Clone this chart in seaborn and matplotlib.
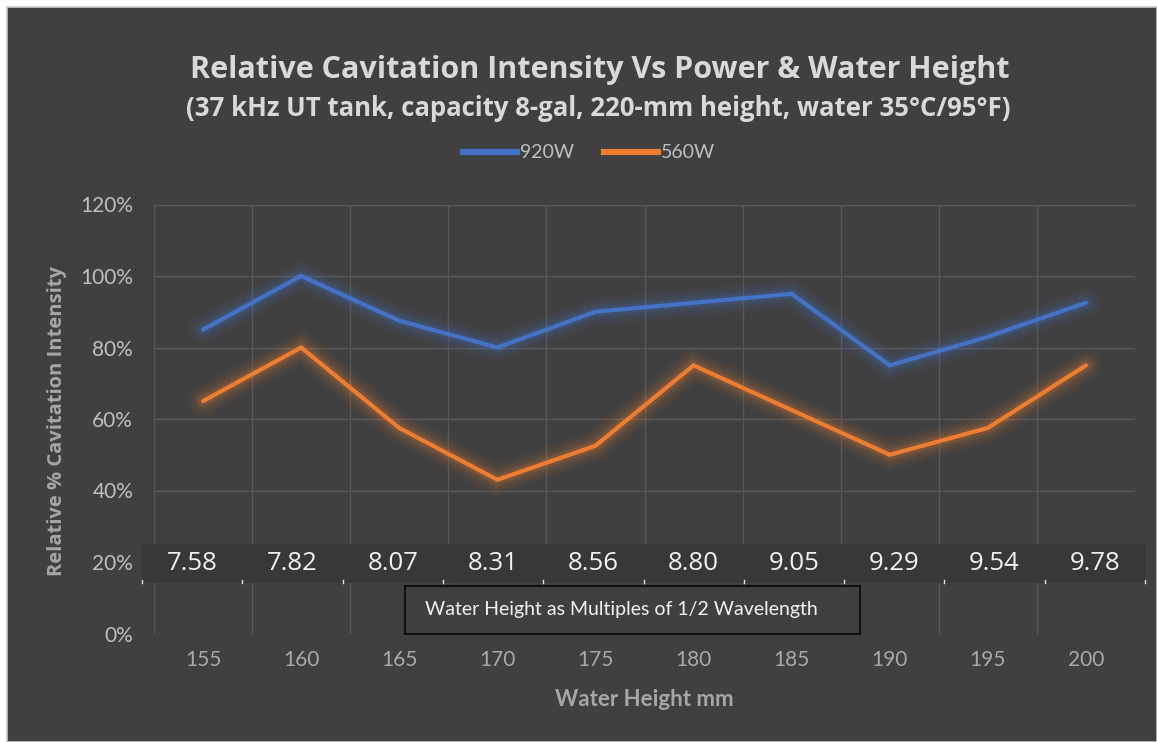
import matplotlib
matplotlib.use("Agg")
import matplotlib.pyplot as plt
import matplotlib.patheffects as pe
from matplotlib.patches import Rectangle
from matplotlib.lines import Line2D
from matplotlib.ticker import FuncFormatter, MultipleLocator
import seaborn as sns
import pandas as pd

# ---- data ----
water_height_mm = [155, 160, 165, 170, 175, 180, 185, 190, 195, 200]
intensity_920w = [85, 100, 87.5, 80, 90, 92.5, 95, 75, 83, 92.5]
intensity_560w = [65, 80, 57.5, 43, 52.5, 75, 62.5, 50, 57.5, 75]
half_wavelength_multiples = ["7.58", "7.82", "8.07", "8.31", "8.56",
                             "8.80", "9.05", "9.29", "9.54", "9.78"]
series_names = ["920W", "560W"]
y_ticks = [0, 20, 40, 60, 80, 100, 120]

title = "Relative Cavitation Intensity Vs Power & Water Height"
subtitle = "(37 kHz UT tank, capacity 8-gal, 220-mm height, water 35\u00b0C/95\u00b0F)"
x_label = "Water Height mm"
y_label = "Relative % Cavitation Intensity"
box_label = "Water Height as Multiples of 1/2 Wavelength"

df = pd.DataFrame({
    "height": water_height_mm * 2,
    "value": intensity_920w + intensity_560w,
    "series": [series_names[0]] * len(water_height_mm) + [series_names[1]] * len(water_height_mm),
})

BG = "#404040"
BLUE = "#4472C4"
ORANGE = "#ED7D31"
palette = {series_names[0]: BLUE, series_names[1]: ORANGE}

W, H = 1157, 742
fig = plt.figure(figsize=(W / 100, H / 100), dpi=100)
fig.patch.set_facecolor("white")
plt.rcParams["font.family"] = ["Lato", "DejaVu Sans"]

# dark chart background with light outer border
fig.patches.append(Rectangle((7 / W, 0), 1 - 7 / W, 1 - 7 / H, transform=fig.transFigure,
                             facecolor=BG, edgecolor="#c8c8c8", lw=1.2, zorder=-5))

ax = fig.add_axes([154 / W, 1 - 633.5 / H, (1135 - 154) / W, (633.5 - 204.5) / H])
ax.set_facecolor(BG)
ax.patch.set_alpha(0)

for name in series_names:
    color = palette[name]
    sub = df[df["series"] == name]
    sns.lineplot(data=sub, x="height", y="value", color=color, lw=3.0, ax=ax,
                 solid_capstyle="round", solid_joinstyle="miter", zorder=3,
                 path_effects=[
                     pe.Stroke(linewidth=22, foreground=color, alpha=0.05),
                     pe.Stroke(linewidth=16, foreground=color, alpha=0.07),
                     pe.Stroke(linewidth=11, foreground=color, alpha=0.1),
                     pe.Stroke(linewidth=7, foreground=color, alpha=0.16),
                     pe.Normal()])

ax.set_xlim(water_height_mm[0] - 2.5, water_height_mm[-1] + 2.5)
ax.set_ylim(0, 120)
ax.set_xticks(water_height_mm)
ax.set_yticks(y_ticks)
ax.xaxis.set_minor_locator(MultipleLocator(5, offset=2.5))
ax.yaxis.set_major_formatter(FuncFormatter(lambda v, p: f"{v:.0f}%"))

ax.grid(axis="y", which="major", color="#5a5a5a", lw=1.0)
ax.grid(axis="x", which="minor", color="#565656", lw=1.0)
ax.grid(axis="x", which="major", visible=False)
ax.yaxis.get_gridlines()[0].set_visible(False)
ax.set_axisbelow(True)
for s in ax.spines.values():
    s.set_visible(False)
ax.tick_params(axis="both", which="both", length=0)
ax.tick_params(axis="y", pad=15, labelsize=15, labelcolor="#bfbfbf")
ax.tick_params(axis="x", pad=12, labelsize=15, labelcolor="#a9a9a9")

ax.set_xlabel("")
ax.set_ylabel("")
fig.text(644 / W, 1 - 700 / H, x_label, ha="center", va="center",
         fontsize=16, fontweight="bold", color="#a6a6a6")
fig.text(57 / W, 1 - 421 / H, y_label, rotation=90, ha="center", va="center",
         fontsize=14.5, fontweight="bold", color="#a6a6a6",
         family=["Open Sans", "DejaVu Sans"])
if ax.get_legend():
    ax.get_legend().remove()

# titles
fig.text(600 / W, 1 - 70 / H, title, ha="center", va="center", fontsize=22,
         fontweight="bold", color="#d9d9d9", family=["Open Sans", "DejaVu Sans"])
fig.text(598 / W, 1 - 108 / H, subtitle, ha="center", va="center", fontsize=18.5,
         fontweight="bold", color="#d9d9d9", family=["Open Sans", "DejaVu Sans"])

# legend
handles = [Line2D([], [], color=palette[n], lw=4.5) for n in series_names]
fig.legend(handles, series_names, loc="center", bbox_to_anchor=(589 / W, 1 - 153 / H),
           ncol=2, frameon=False, fontsize=14, labelcolor="#bfbfbf",
           handlelength=2.8, handletextpad=0.15, columnspacing=1.5)

# table of half-wavelength multiples
tx0, tx1, ty0, ty1 = 142, 1145, 544, 583
fig.patches.append(Rectangle((tx0 / W, 1 - ty1 / H), (tx1 - tx0) / W, (ty1 - ty0) / H,
                             transform=fig.transFigure, facecolor="#383838",
                             edgecolor="none", zorder=2))
n = len(half_wavelength_multiples)
cw = (tx1 - tx0) / n
for i, lab in enumerate(half_wavelength_multiples):
    fig.text((tx0 + cw * (i + 0.5)) / W, 1 - 564 / H, lab, ha="center", va="center",
             fontsize=18.5, color="#f2f2f2", family=["Open Sans", "DejaVu Sans"], zorder=3)
    fig.lines.append(Line2D([(tx0 + cw * i) / W] * 2, [1 - ty1 / H, 1 - (ty1 - 3) / H],
                            transform=fig.transFigure, color="#e0e0e0", lw=1, zorder=3))
fig.lines.append(Line2D([tx1 / W] * 2, [1 - ty1 / H, 1 - (ty1 - 3) / H],
                        transform=fig.transFigure, color="#e0e0e0", lw=1, zorder=3))

# label box
bx0, bx1, by0, by1 = 405, 860, 586, 634
fig.patches.append(Rectangle((bx0 / W, 1 - by1 / H), (bx1 - bx0) / W, (by1 - by0) / H,
                             transform=fig.transFigure, facecolor=BG,
                             edgecolor="#111111", lw=1.5, zorder=2))
fig.text(621 / W, 1 - 610 / H, box_label, ha="center", va="center", fontsize=14,
         color="#f2f2f2", zorder=3)

fig.savefig("out.png", dpi=100, facecolor=fig.get_facecolor())
